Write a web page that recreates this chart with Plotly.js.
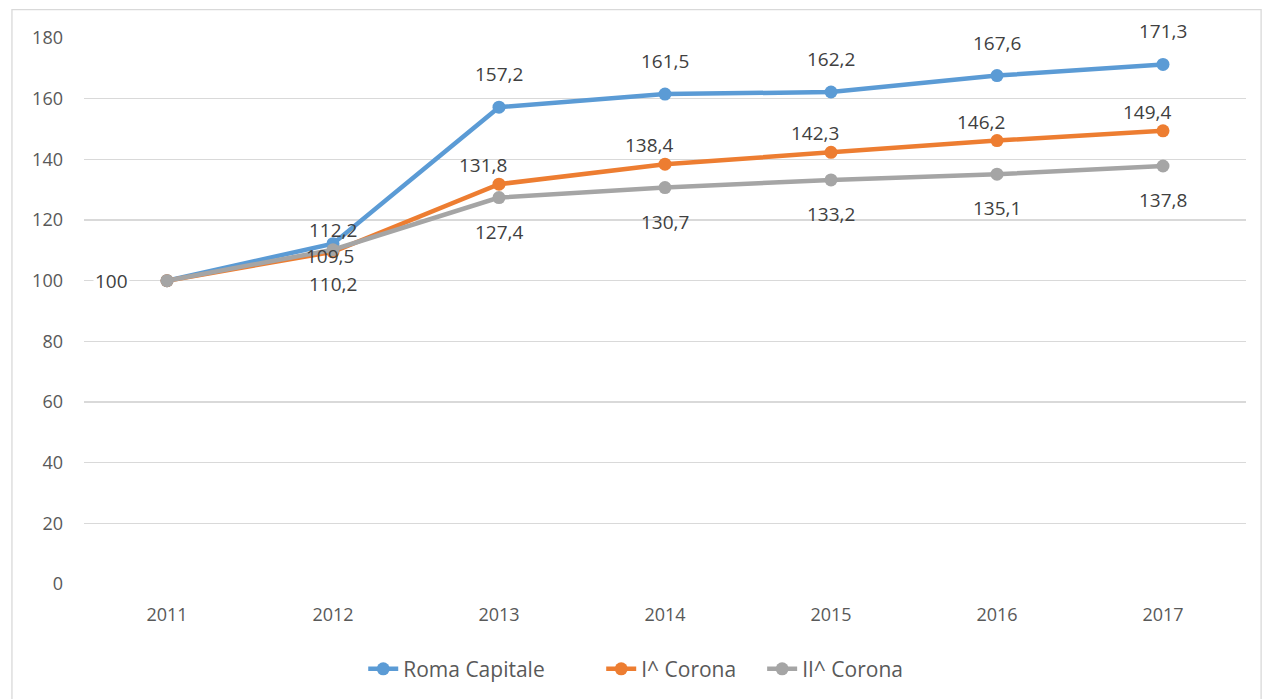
<!DOCTYPE html>
<html><head><meta charset="utf-8">
<script src="https://cdn.plot.ly/plotly-3.0.1.min.js"></script>
<style>html,body{margin:0;padding:0;background:#fff;}#chart{width:1263px;height:699px;}</style>
</head><body><div id="chart"></div>
<script>
const years = ['2011','2012','2013','2014','2015','2016','2017'];
const romaCapitale = [100, 112.2, 157.2, 161.5, 162.2, 167.6, 171.3];
const iCorona = [100, 109.5, 131.8, 138.4, 142.3, 146.2, 149.4];
const iiCorona = [100, 110.2, 127.4, 130.7, 133.2, 135.1, 137.8];
const seriesNames = ['Roma Capitale', 'I^ Corona', 'II^ Corona'];
const yTicks = [0, 20, 40, 60, 80, 100, 120, 140, 160, 180];

const colors = ['#5B9BD5', '#ED7D31', '#A5A5A5'];
const allSeries = [romaCapitale, iCorona, iiCorona];
const legendIds = ['legend', 'legend2', 'legend3'];
const fmt = v => String(v).replace('.', ',');
const FONT = 'Open Sans, Liberation Sans, sans-serif';

const traces = allSeries.map((ys, i) => ({
  x: years, y: ys, name: seriesNames[i], type: 'scatter', mode: 'lines+markers',
  line: {color: colors[i], width: 4.5},
  marker: {color: colors[i], size: 13},
  legend: legendIds[i],
  hoverinfo: 'x+y'
}));

// label offsets per series (style)
const shifts = [
  (j) => j === 0 ? null : (j === 1 ? {x: 0, y: 14} : {x: 0, y: 33}),
  (j) => j === 0 ? null : (j === 1 ? {x: -3, y: -4} : {x: -16, y: 19}),
  (j) => j === 0 ? {x: -56, y: 0} : {x: 0, y: -34}
];
const annotations = [];
allSeries.forEach((ys, i) => {
  ys.forEach((v, j) => {
    const s = shifts[i](j);
    if (!s) return;
    annotations.push({
      x: j, y: v, xref: 'x', yref: 'y', text: fmt(v), showarrow: false,
      xshift: s.x, yshift: s.y,
      font: {family: FONT, size: 19, color: '#404040'},
      bgcolor: (i === 2 && j === 0) ? '#ffffff' : 'rgba(0,0,0,0)'
    });
  });
});

const legendBase = {orientation: 'h', xanchor: 'left', yref: 'container', y: 0.072, yanchor: 'top',
  font: {family: FONT, size: 21, color: '#595959'}, bgcolor: 'rgba(0,0,0,0)'};

const layout = {
  width: 1263, height: 699,
  margin: {l: 84, r: 17, t: 38, b: 115, autoexpand: false},
  paper_bgcolor: '#ffffff', plot_bgcolor: '#ffffff',
  font: {family: FONT, color: '#595959', size: 18},
  xaxis: {
    type: 'category', range: [-0.5, 6.5], showgrid: false, zeroline: false,
    showline: false, ticks: '', ticklabelstandoff: 18, automargin: false,
    tickfont: {size: 18, color: '#595959'}
  },
  yaxis: {
    range: [0, 180], tickvals: yTicks, ticktext: yTicks.map(String),
    showgrid: true, gridcolor: '#D9D9D9', gridwidth: 1.3, zeroline: false,
    showline: false, ticks: '', ticklabelstandoff: 20, automargin: false,
    tickfont: {size: 18, color: '#595959'}
  },
  showlegend: true,
  legend: Object.assign({}, legendBase, {x: 0.2403}),
  legend2: Object.assign({}, legendBase, {x: 0.4451}),
  legend3: Object.assign({}, legendBase, {x: 0.5836}),
  annotations: annotations,
  shapes: [{type: 'rect', xref: 'paper', yref: 'paper', layer: 'below',
    x0: -0.062, x1: 1.013, y0: -0.25, y1: 1.052,
    line: {color: '#D9D9D9', width: 1.3}, fillcolor: 'rgba(0,0,0,0)'}]
};

Plotly.newPlot('chart', traces, layout, {displayModeBar: false, staticPlot: true});
</script></body></html>
